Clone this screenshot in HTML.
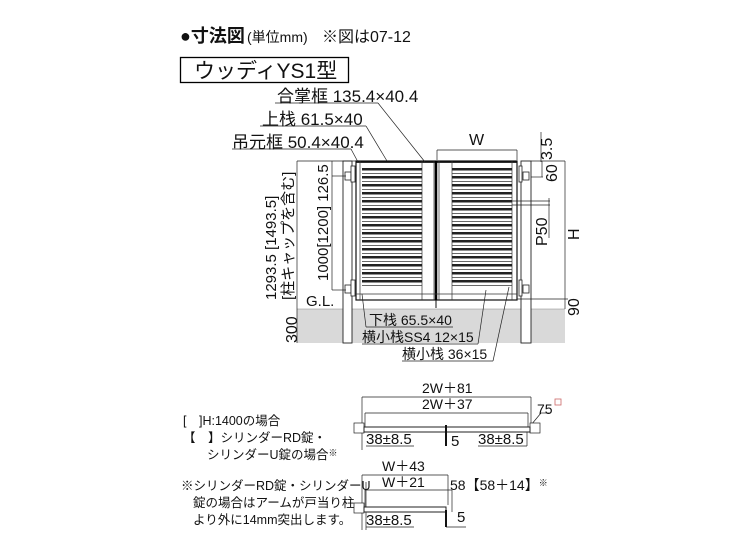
<!DOCTYPE html>
<html><head><meta charset="utf-8"><style>
html,body{margin:0;padding:0;background:#fff}
svg{display:block}
text{font-family:"Liberation Sans","Noto Sans CJK JP",sans-serif;fill:#111}
</style></head><body>
<svg width="747" height="560" viewBox="0 0 747 560" xmlns="http://www.w3.org/2000/svg">
<defs>
<g id="slats">
<rect x="0" y="0" width="60" height="2.5" fill="#222"/><rect x="0" y="5" width="60" height="0.8" fill="#444"/>
</g>
</defs>
<!-- title -->
<text x="180" y="42" font-size="18" font-weight="bold">●寸法図</text>
<text x="247" y="42" font-size="14">(単位mm)</text>
<text x="322" y="42" font-size="16">※図は07-12</text>
<rect x="180.5" y="57.5" width="168" height="25" fill="none" stroke="#000" stroke-width="1.3"/>
<text x="194" y="78" font-size="21">ウッディYS1型</text>

<!-- ground -->
<rect x="297" y="309" width="268" height="34" fill="#d9d9d9"/>
<line x1="297" y1="309" x2="565" y2="309" stroke="#888" stroke-width="0.6"/>
<!-- posts -->
<rect x="343" y="161" width="9" height="182" fill="#fff" stroke="#222" stroke-width="0.9"/>
<rect x="521" y="161" width="10" height="182" fill="#fff" stroke="#222" stroke-width="0.9"/>
<!-- hinges -->
<g fill="#fff" stroke="#222" stroke-width="0.8">
<rect x="345" y="172" width="6" height="8"/><rect x="345" y="285" width="6" height="8"/>
<rect x="523" y="172" width="6" height="8"/><rect x="523" y="285" width="6" height="8"/>
<rect x="351" y="166" width="4" height="16"/><rect x="351" y="280" width="4" height="16"/>
<rect x="519" y="166" width="3" height="16"/><rect x="519" y="280" width="3" height="16"/>
</g>
<!-- gate frame -->
<rect x="356" y="161" width="161" height="139" fill="#fff" stroke="#111" stroke-width="1.2"/>
<line x1="356" y1="162" x2="517" y2="162" stroke="#111" stroke-width="1.8"/>
<line x1="436" y1="161" x2="436" y2="300" stroke="#000" stroke-width="2.5"/>
<line x1="360" y1="161" x2="360" y2="300" stroke="#333" stroke-width="0.7"/>
<line x1="422" y1="161" x2="422" y2="300" stroke="#333" stroke-width="0.7"/>
<line x1="434" y1="161" x2="434" y2="300" stroke="#333" stroke-width="0.7"/>
<line x1="439" y1="161" x2="439" y2="300" stroke="#333" stroke-width="0.7"/>
<line x1="452" y1="161" x2="452" y2="300" stroke="#333" stroke-width="0.7"/>
<line x1="512" y1="161" x2="512" y2="300" stroke="#333" stroke-width="0.7"/>
<line x1="356" y1="294" x2="517" y2="294" stroke="#333" stroke-width="0.7"/>
<line x1="436" y1="300" x2="436" y2="308" stroke="#111" stroke-width="1"/>
<g transform="translate(362,0)">
<use href="#slats" y="168"/><use href="#slats" y="176"/><use href="#slats" y="184"/><use href="#slats" y="192"/>
<use href="#slats" y="200"/><use href="#slats" y="208"/><use href="#slats" y="216"/><use href="#slats" y="224"/>
<use href="#slats" y="232"/><use href="#slats" y="240"/><use href="#slats" y="248"/><use href="#slats" y="256"/>
<use href="#slats" y="264"/><use href="#slats" y="272"/><use href="#slats" y="280"/>
</g>
<g transform="translate(452,0)">
<use href="#slats" y="168"/><use href="#slats" y="176"/><use href="#slats" y="184"/><use href="#slats" y="192"/>
<use href="#slats" y="200"/><use href="#slats" y="208"/><use href="#slats" y="216"/><use href="#slats" y="224"/>
<use href="#slats" y="232"/><use href="#slats" y="240"/><use href="#slats" y="248"/><use href="#slats" y="256"/>
<use href="#slats" y="264"/><use href="#slats" y="272"/><use href="#slats" y="280"/>
</g>

<!-- dimension lines -->
<g stroke="#222" stroke-width="0.7" fill="none">
<line x1="297" y1="161" x2="297" y2="343"/>
<line x1="297" y1="161" x2="356" y2="161"/>
<line x1="332" y1="161" x2="332" y2="290"/>
<line x1="332" y1="176" x2="346" y2="176"/>
<line x1="332" y1="290" x2="346" y2="290"/>
<line x1="437" y1="150" x2="517" y2="150"/>
<line x1="437" y1="150" x2="437" y2="160"/><line x1="517" y1="150" x2="517" y2="160"/>
<line x1="541" y1="132" x2="541" y2="162"/>
<line x1="531" y1="161" x2="565" y2="161"/>
<line x1="531" y1="177" x2="543" y2="177"/>
<line x1="542" y1="161" x2="542" y2="177"/>
<line x1="512" y1="201" x2="550" y2="201"/><line x1="512" y1="205" x2="550" y2="205"/>
<line x1="549" y1="198" x2="549" y2="238"/>
<line x1="565" y1="161" x2="565" y2="309"/>
<line x1="517" y1="299" x2="568" y2="299"/>
<!-- leaders -->
<line x1="275" y1="103" x2="378" y2="103"/><line x1="378" y1="103" x2="425" y2="162"/>
<line x1="260" y1="126" x2="366" y2="126"/><line x1="366" y1="126" x2="387" y2="161"/>
<line x1="232" y1="149" x2="351" y2="149"/><line x1="351" y1="149" x2="358" y2="162"/>
<line x1="366" y1="327" x2="453" y2="327"/><line x1="366" y1="327" x2="362" y2="294"/>
<line x1="362" y1="344" x2="478" y2="344"/><line x1="478" y1="344" x2="486" y2="290"/>
<line x1="402" y1="361" x2="493" y2="361"/><line x1="493" y1="361" x2="509" y2="287"/>
</g>
<text x="277" y="102" font-size="17">合掌框 135.4×40.4</text>
<text x="262" y="125" font-size="17">上栈 61.5×40</text>
<text x="232" y="148" font-size="17">吊元框 50.4×40.4</text>
<text x="469" y="145" font-size="16">W</text>
<text x="306" y="306" font-size="15">G.L.</text>
<text x="369" y="325" font-size="14">下栈 65.5×40</text>
<text x="362" y="342" font-size="14">横小栈SS4 12×15</text>
<text x="402" y="359" font-size="14">横小栈 36×15</text>
<g font-size="16">
<text transform="translate(552,160) rotate(-90)">3.5</text>
<text transform="translate(557,182) rotate(-90)">60</text>
<text transform="translate(547,246) rotate(-90)">P50</text>
<text transform="translate(579,240) rotate(-90)">H</text>
<text transform="translate(579,316) rotate(-90)">90</text>
<text transform="translate(297,343) rotate(-90)">300</text>
</g>
<g font-size="15">
<text transform="translate(276,300) rotate(-90)">1293.5 [1493.5]</text>
<text transform="translate(293,300) rotate(-90)">[柱キャップを含む]</text>
<text transform="translate(328,281) rotate(-90)">1000[1200] 126.5</text>
</g>

<!-- plan view 1 -->
<g stroke="#222" stroke-width="0.7" fill="none">
<line x1="362" y1="397" x2="531" y2="397"/>
<line x1="362" y1="397" x2="362" y2="450"/><line x1="531" y1="397" x2="531" y2="425"/>
<line x1="365" y1="413" x2="528" y2="413"/>
<line x1="365" y1="413" x2="365" y2="427"/><line x1="528" y1="413" x2="528" y2="427"/>
<line x1="531" y1="425" x2="541" y2="413"/><line x1="541" y1="413" x2="550" y2="413"/>
<rect x="354" y="423" width="10" height="10" fill="#fff"/>
<rect x="530" y="423" width="10" height="10" fill="#fff"/>
<rect x="364" y="427" width="166" height="5" fill="#fff" stroke-width="1"/>
<line x1="366" y1="446" x2="414" y2="446"/>
<line x1="478" y1="446" x2="527" y2="446"/>
<line x1="527" y1="432" x2="527" y2="446"/>
<line x1="366" y1="482" x2="366" y2="530"/>
</g>
<line x1="446" y1="425" x2="446" y2="446" stroke="#111" stroke-width="2"/>
<text x="422" y="393" font-size="14">2W＋81</text>
<text x="422" y="409" font-size="14">2W＋37</text>
<text x="537" y="414" font-size="14">75</text><rect x="555" y="399" width="6" height="6" fill="none" stroke="#c66" stroke-width="0.8"/>
<text x="366" y="444" font-size="15">38±8.5</text>
<text x="451" y="446" font-size="15">5</text>
<text x="478" y="444" font-size="15">38±8.5</text>

<!-- plan view 2 -->
<g stroke="#222" stroke-width="0.7" fill="none">
<line x1="362" y1="475" x2="448" y2="475"/>
<line x1="362" y1="475" x2="362" y2="530"/><line x1="448" y1="475" x2="448" y2="505"/>
<line x1="365" y1="490" x2="452" y2="490"/>
<line x1="365" y1="490" x2="365" y2="507"/><line x1="452" y1="490" x2="452" y2="512"/>
<rect x="354" y="503" width="10" height="10" fill="#fff"/>
<rect x="364" y="507" width="82" height="5" fill="#fff" stroke-width="1"/>
<line x1="366" y1="527" x2="414" y2="527"/>
<line x1="446" y1="527" x2="466" y2="527"/>
</g>
<line x1="446" y1="510" x2="446" y2="527" stroke="#111" stroke-width="2"/>
<text x="382" y="471" font-size="14">W＋43</text>
<text x="382" y="487" font-size="14">W＋21</text>
<text x="450" y="490" font-size="14">58【58＋14】<tspan font-size="9" dy="-4">※</tspan></text>
<text x="366" y="525" font-size="15">38±8.5</text>
<text x="457" y="522" font-size="15">5</text>

<!-- notes -->
<g font-size="12.5">
<text x="183" y="425">[　]H:1400の場合</text>
<text x="183" y="442">【　】シリンダーRD錠・</text>
<text x="207" y="459">シリンダーU錠の場合<tspan font-size="9" dy="-3">※</tspan></text>
<text x="181" y="490">※シリンダーRD錠・シリンダーU</text>
<text x="193" y="507">錠の場合はアームが戸当り柱</text>
<text x="193" y="524">より外に14mm突出します。</text>
</g>
</svg>
</body></html>
